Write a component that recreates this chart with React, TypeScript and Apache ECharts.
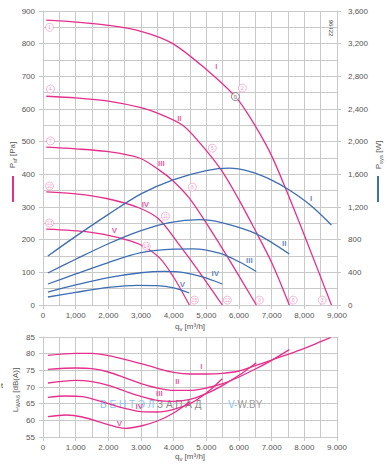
import React, { useEffect, useRef } from "react";
import * as echarts from "echarts";

const PINK = "#e62e8b";
const BLUE = "#3d6db2";
const GRID = "#c9c9c9";
const TXT = "#555";
const FONT = "Liberation Sans, Arial, sans-serif";

// Pressure curves P_sf [Pa] vs q_v [m3/h]
const pressureI = [[100,872],[1000,866],[2000,856],[3000,838],[3960,801],[5000,721],[5890,638],[6315,578],[6945,468],[7446,352],[8058,199],[8830,0]];
const pressureII = [[100,639],[1000,634],[2000,624],[3000,604],[3560,585],[4266,551],[4786,498],[5460,413],[6000,322],[6500,228],[7000,130],[7540,0]];
const pressureIII = [[100,483],[1000,478],[1945,470],[2950,450],[3560,413],[3960,382],[4480,327],[5092,236],[5703,138],[6530,0]];
const pressureIV = [[100,346],[1000,340],[1945,326],[2950,297],[3560,262],[4174,184],[4786,101],[5490,0]];
const pressureV = [[100,232],[1422,223],[2250,208],[2950,186],[3560,145],[4000,85],[4480,0]];

// Power curves P_sys [W]
const powerI = [[150,600],[1000,840],[2000,1110],[3000,1360],[3960,1530],[5000,1645],[5700,1675],[6315,1635],[7000,1530],[7540,1408],[8180,1224],[8830,980]];
const powerII = [[150,392],[1000,560],[2000,750],[3000,910],[3870,1010],[4800,1045],[5500,1005],[6530,870],[7540,624]];
const powerIII = [[150,257],[1000,380],[2000,520],[3000,640],[4000,685],[4600,688],[5400,635],[6000,530],[6530,410]];
const powerIV = [[150,159],[1000,245],[2000,335],[3000,395],[3700,412],[4266,400],[4880,343],[5490,257]];
const powerV = [[150,98],[1000,155],[2000,215],[2900,240],[3500,237],[4000,210],[4480,147]];

// Sound power L_WA6 [dB(A)]
const noiseI = [[150,79.5],[1000,80.1],[1500,80.1],[2000,79.4],[2500,78.3],[3000,77],[3500,75.6],[4000,74.4],[4500,73.9],[5000,73.9],[5500,74.1],[6000,74.8],[6500,76.4],[7000,78.1],[7500,79.8],[8000,81.6],[8500,83.6],[8800,84.8]];
const noiseII = [[150,75.3],[1000,75.7],[1500,75.5],[2000,74.5],[2500,72.8],[3000,71],[3500,69.7],[4000,69],[4500,69],[5000,69.7],[5500,71],[6000,73],[6500,75.4],[7000,78],[7540,81.2]];
const noiseIII = [[150,71.2],[1000,72],[1500,71.6],[2000,70.5],[2500,68.8],[3000,67.2],[3500,66],[4000,65.7],[4500,66.3],[5000,68],[5500,70.5],[6000,73.5],[6530,77.3]];
const noiseIV = [[150,66.9],[700,67.3],[1200,67.1],[2000,65],[2500,63.6],[3000,62.6],[3500,62.5],[4000,63.3],[4500,65],[5000,68.2],[5490,72.5]];
const noiseV = [[150,61.1],[700,61.6],[1200,61],[2000,58.7],[2500,57.6],[3000,58.3],[3500,59.8],[4000,62.2],[4480,65.5]];

// Operating point markers (circled numbers) on the pressure chart
const pointMarkers = [
  [199,850,"1"],[6100,664,"2"],[8547,15,"3"],
  [230,661,"4"],[5183,480,"5"],[7660,15,"6"],
  [230,502,"7"],[4572,361,"8"],[6621,15,"9"],
  [199,364,"10"],[3746,272,"11"],[5642,15,"12"],
  [199,251,"13"],[3165,180,"14"],[4633,15,"15"],
];
const greyMarker = [[5890,638]];

const romans = ["I","II","III","IV","V"];
const pressureLabelPos = [[5306,731],[4174,572],[3624,434],[3135,309],[2187,229]];
const powerLabelPos = [[8211,1298],[7385,747],[6315,551],[5275,380],[4266,257]];
const noiseLabelPos = [[4847,76.3],[4113,71.8],[3563,68.2],[2951,64.3],[2339,59.2]];

const fmtComma = (v: number) => (v >= 1000 ? `${Math.floor(v / 1000)},${String(v % 1000).padStart(3, "0")}` : `${v}`);
const fmtDot = (v: number) => (v >= 1000 ? `${Math.floor(v / 1000)}.${String(v % 1000).padStart(3, "0")}` : `${v}`);

export default function App() {
  const ref = useRef<HTMLDivElement>(null);
  useEffect(() => {
    if (!ref.current) return;
    const chart = echarts.init(ref.current, undefined, { renderer: "svg" });
    const axisCommon = {
      axisLine: { show: true, lineStyle: { color: GRID, width: 1 } },
      axisTick: { show: true, length: 4, lineStyle: { color: GRID } },
      splitLine: { show: true, lineStyle: { color: GRID, width: 1 } },
    };
    const label = (fmt: any, margin: number) => ({ fontSize: 8, color: TXT, fontFamily: FONT, margin, formatter: fmt });
    const line = (data: any, color: string, xi: number, yi: number) => ({
      type: "line", data, xAxisIndex: xi, yAxisIndex: yi, showSymbol: false, symbol: "none",
      smooth: 0.3, lineStyle: { color, width: 1.3 }, silent: true, z: 3,
    });
    const labelSeries = (pos: any[], color: string, xi: number, yi: number, size: number) => ({
      type: "scatter", xAxisIndex: xi, yAxisIndex: yi, symbol: "circle", symbolSize: 1,
      itemStyle: { color: "transparent" }, silent: true, z: 6,
      data: pos.map((p, i) => ({ value: p, name: romans[i] })),
      label: { show: true, position: "inside", formatter: (p: any) => p.name, color, fontSize: size, fontWeight: "bold", fontFamily: FONT },
    });
    const sub = { fontSize: 6, verticalAlign: "bottom", padding: [0, 0, -2, 0] };
    chart.setOption({
      animation: false,
      backgroundColor: "#fff",
      grid: [
        { left: 43, top: 11, width: 294, height: 294 },
        { left: 43, top: 337, width: 294, height: 100 },
      ],
      xAxis: [
        { gridIndex: 0, type: "value", min: 0, max: 9000, interval: 1000, ...axisCommon,
          axisLabel: label(fmtComma, 6), minorTick: { show: false, splitNumber: 2 },
          minorSplitLine: { show: true, lineStyle: { color: GRID, width: 1 } } },
        { gridIndex: 1, type: "value", min: 0, max: 9000, interval: 1000, ...axisCommon,
          axisLabel: label(fmtDot, 6), minorTick: { show: false, splitNumber: 2 },
          minorSplitLine: { show: true, lineStyle: { color: GRID, width: 1 } } },
      ],
      yAxis: [
        { gridIndex: 0, type: "value", min: 0, max: 900, interval: 100, ...axisCommon,
          axisLabel: label(fmtComma, 8), minorTick: { show: false, splitNumber: 2 },
          minorSplitLine: { show: true, lineStyle: { color: GRID, width: 1 } } },
        { gridIndex: 0, type: "value", min: 0, max: 3600, interval: 400, position: "right", ...axisCommon,
          splitLine: { show: false }, axisLabel: label(fmtComma, 11) },
        { gridIndex: 1, type: "value", min: 55, max: 85, interval: 5, ...axisCommon,
          axisLabel: label((v: number) => `${v}`, 8) },
      ],
      series: [
        line(pressureI, PINK, 0, 0), line(pressureII, PINK, 0, 0), line(pressureIII, PINK, 0, 0),
        line(pressureIV, PINK, 0, 0), line(pressureV, PINK, 0, 0),
        line(powerI, BLUE, 0, 1), line(powerII, BLUE, 0, 1), line(powerIII, BLUE, 0, 1),
        line(powerIV, BLUE, 0, 1), line(powerV, BLUE, 0, 1),
        line(noiseI, PINK, 1, 2), line(noiseII, PINK, 1, 2), line(noiseIII, PINK, 1, 2),
        line(noiseIV, PINK, 1, 2), line(noiseV, PINK, 1, 2),
        {
          type: "scatter", xAxisIndex: 0, yAxisIndex: 0, symbol: "circle", symbolSize: 8, silent: true, z: 7,
          itemStyle: { color: "#fff", borderColor: "#f08cbf", borderWidth: 0.8 },
          data: pointMarkers.map((m) => ({ value: [m[0], m[1]], name: m[2] })),
          label: { show: true, position: "inside", formatter: (p: any) => p.name, color: "#f07ab5", fontSize: 5, fontFamily: FONT },
        },
        {
          type: "scatter", xAxisIndex: 0, yAxisIndex: 0, symbol: "circle", symbolSize: 8, silent: true, z: 7,
          itemStyle: { color: "#fff", borderColor: "#666", borderWidth: 1 },
          data: greyMarker,
          label: { show: true, position: "inside", formatter: "0", color: "#555", fontSize: 6, fontFamily: FONT },
        },
        labelSeries(pressureLabelPos, PINK, 0, 0, 8),
        labelSeries(powerLabelPos, BLUE, 0, 1, 8),
        labelSeries(noiseLabelPos, PINK, 1, 2, 8),
      ],
      graphic: [
        { type: "text", x: 12, y: 155, rotation: Math.PI / 2, style: { text: "{b|P}{s|sf} [Pa]", align: "center", verticalAlign: "middle", fill: TXT, font: `8px ${FONT}`, rich: { b: { fontSize: 8, fill: TXT }, s: { ...sub, fill: TXT } } } },
        { type: "rect", shape: { x: 12, y: 176, width: 2, height: 26 }, style: { fill: PINK } },
        { type: "text", x: 378, y: 155, rotation: Math.PI / 2, style: { text: "{b|P}{s|sys} [W]", align: "center", verticalAlign: "middle", fill: TXT, font: `8px ${FONT}`, rich: { b: { fontSize: 8, fill: TXT }, s: { ...sub, fill: TXT } } } },
        { type: "rect", shape: { x: 377, y: 176, width: 2, height: 26 }, style: { fill: BLUE } },
        { type: "text", x: 15, y: 390, rotation: Math.PI / 2, style: { text: "{b|L}{s|WA6} [dB(A)]", align: "center", verticalAlign: "middle", fill: TXT, font: `8px ${FONT}`, rich: { b: { fontSize: 8, fill: TXT }, s: { ...sub, fill: TXT } } } },
        { type: "text", x: 1, y: 385, style: { text: "t", fill: "#333", font: `7px ${FONT}`, verticalAlign: "middle" } },
        { type: "text", x: 190, y: 326, style: { text: "{b|q}{s|v} [m³/h]", align: "center", verticalAlign: "middle", fill: TXT, font: `8px ${FONT}`, rich: { b: { fontSize: 8, fill: TXT }, s: { ...sub, fill: TXT } } } },
        { type: "text", x: 190, y: 456, style: { text: "{b|q}{s|v} [m³/h]", align: "center", verticalAlign: "middle", fill: TXT, font: `8px ${FONT}`, rich: { b: { fontSize: 8, fill: TXT }, s: { ...sub, fill: TXT } } } },
        { type: "text", x: 331, y: 28, rotation: -Math.PI / 2, style: { text: "96422", align: "center", verticalAlign: "middle", fill: "#444", font: `6px ${FONT}` } },
        { type: "text", x: 100, y: 404, z: 1, style: { text: "{a|В Е Н Т Э Л}{c| З А П А Д}", verticalAlign: "middle", font: `10px ${FONT}`,
          rich: { a: { fontSize: 10, fill: "#8cc4ea", fontFamily: FONT }, c: { fontSize: 10, fill: "#8a8a8a", fontFamily: FONT } } } },
        { type: "text", x: 228, y: 404, z: 1, style: { text: "{a|V-}{c|W.BY}", verticalAlign: "middle", font: `10px ${FONT}`,
          rich: { a: { fontSize: 10, fill: "#8cc4ea", fontFamily: FONT }, c: { fontSize: 10, fill: "#9a9a9a", fontFamily: FONT } } } },
      ],
    });
    return () => chart.dispose();
  }, []);
  return <div ref={ref} style={{ position: "fixed", left: 0, top: 0, width: 387, height: 466, background: "#fff" }} />;
}
